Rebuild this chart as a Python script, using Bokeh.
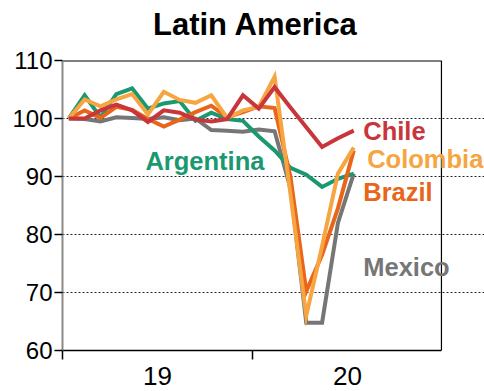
from bokeh.plotting import figure
from bokeh.layouts import column
from bokeh.models import Range1d, FixedTicker, Label, Span, Div
from bokeh.embed import file_html
from bokeh.resources import INLINE

# Monthly activity index, Jan 2019 = 100 (Jan 2019 .. Jul 2020)
months = ["2019-01", "2019-02", "2019-03", "2019-04", "2019-05", "2019-06",
          "2019-07", "2019-08", "2019-09", "2019-10", "2019-11", "2019-12",
          "2020-01", "2020-02", "2020-03", "2020-04", "2020-05", "2020-06",
          "2020-07"]

mexico = [100.0, 99.9, 99.5, 100.2, 100.1, 99.9, 100.2, 99.7, 100.0, 98.0,
          97.9, 97.7, 98.1, 97.8, 88.0, 64.8, 64.8, 82.0, 90.5]
argentina = [100.0, 104.0, 100.2, 104.2, 105.2, 101.7, 102.6, 103.0, 99.6, 101.0,
             99.9, 99.6, 96.9, 94.5, 91.5, 90.3, 88.2, 89.6, 90.5]
brazil = [100.0, 101.4, 100.1, 102.0, 101.5, 99.9, 98.6, 99.8, 101.1, 102.2,
          100.2, 101.1, 102.1, 101.8, 90.0, 70.2, 76.5, 84.5, 94.5]
colombia = [100.0, 103.3, 102.1, 103.3, 104.2, 100.7, 104.6, 103.2, 102.7, 104.0,
            100.1, 101.4, 102.0, 107.2, 87.0, 66.0, 78.0, 90.5, 95.0]
chile = [100.0, 100.0, 101.4, 102.4, 101.4, 99.4, 101.4, 101.0, 99.8, 99.5,
         99.9, 104.0, 101.7, 105.4, 101.9, 98.5, 95.1, 96.6, 97.9]

year_labels = {6: "19", 18: "20"}
y_ticks = [60, 70, 80, 90, 100, 110]

# x position of each month, counted in months from the start of 2019
MONTH_OFFSET = 0.4
x = [i + MONTH_OFFSET for i in range(len(months))]

# the plotting box covers two years; the canvas continues to the right
# so that the series names can run past the box edge
X_END = 23.94
X_CANVAS_END = 26.66

series = [
    ("Mexico", mexico, "#767676"),
    ("Argentina", argentina, "#1A9870"),
    ("Brazil", brazil, "#E8651A"),
    ("Colombia", colombia, "#F7A541"),
    ("Chile", chile, "#C8363B"),
]

heading = Div(
    text=('<div style="padding:9px 0 0 153px; font-family:\'Liberation Sans\';'
          ' font-size:31px; font-weight:bold; line-height:31px; color:black;'
          ' white-space:nowrap;">Latin America</div>'),
    width=484, height=40, margin=0)

p = figure(width=484, height=351, output_backend="svg", toolbar_location=None,
           x_range=Range1d(0, X_CANVAS_END), y_range=Range1d(60, 110),
           min_border_left=62, min_border_right=0, min_border_top=20,
           min_border_bottom=41, background_fill_color="white",
           border_fill_color="white", margin=0)
p.title.visible = False
p.outline_line_color = None

# y axis
p.yaxis.ticker = FixedTicker(ticks=y_ticks)
p.yaxis.axis_line_color = "#8a8a8a"
p.yaxis.axis_line_width = 2
p.yaxis.major_tick_out = 8
p.yaxis.major_tick_in = 0
p.yaxis.major_tick_line_color = "black"
p.yaxis.major_tick_line_width = 1.5
p.yaxis.minor_tick_line_color = None
p.yaxis.major_label_text_font = "Liberation Sans"
p.yaxis.major_label_text_font_size = "24px"
p.yaxis.major_label_text_color = "black"
p.yaxis.major_label_standoff = 2

# x axis: year labels centred, ticks on year boundaries
p.xaxis.ticker = FixedTicker(ticks=[6, 18], minor_ticks=[0, 12])
p.xaxis.bounds = (0, X_END)
p.xaxis.major_label_overrides = year_labels
p.xaxis.major_tick_out = 0
p.xaxis.major_tick_in = 0
p.xaxis.minor_tick_out = 9
p.xaxis.minor_tick_in = 0
p.xaxis.minor_tick_line_color = "black"
p.xaxis.minor_tick_line_width = 1.5
p.xaxis.axis_line_color = "black"
p.xaxis.axis_line_width = 1.5
p.xaxis.major_label_text_font = "Liberation Sans"
p.xaxis.major_label_text_font_size = "26px"
p.xaxis.major_label_text_color = "black"
p.xaxis.major_label_standoff = 7

p.xgrid.visible = False
p.ygrid.ticker = FixedTicker(ticks=[70, 80, 90, 100])
p.ygrid.bounds = (0, X_END)
p.ygrid.grid_line_color = "black"
p.ygrid.grid_line_dash = "2 2"
p.ygrid.grid_line_width = 1
p.ygrid.grid_line_alpha = 0.85

# box: top edge and right edge
p.segment(x0=[0], y0=[110], x1=[X_END], y1=[110], line_color="black",
          line_width=2)
p.add_layout(Span(location=X_END, dimension="height", line_color="black",
                  line_width=1.2))

for name, vals, color in series:
    p.line(x, vals, line_color=color, line_width=4, line_join="miter")

label_style = dict(text_font="Liberation Sans", text_font_style="bold",
                   text_font_size="25.5px", text_baseline="alphabetic",
                   text_align="left")
labels = [
    ("Chile", 19.0, 97.8, "#C8363B"),
    ("Colombia", 19.25, 93.0, "#F7A541"),
    ("Brazil", 19.0, 87.3, "#E8651A"),
    ("Mexico", 19.0, 74.4, "#767676"),
    ("Argentina", 5.24, 92.7, "#1A9870"),
]
for text, lx, ly, color in labels:
    p.add_layout(Label(x=lx, y=ly, text=text, text_color=color, **label_style))

layout = column(heading, p, spacing=0, margin=0)
open("out.html", "w").write(file_html(layout, INLINE))
